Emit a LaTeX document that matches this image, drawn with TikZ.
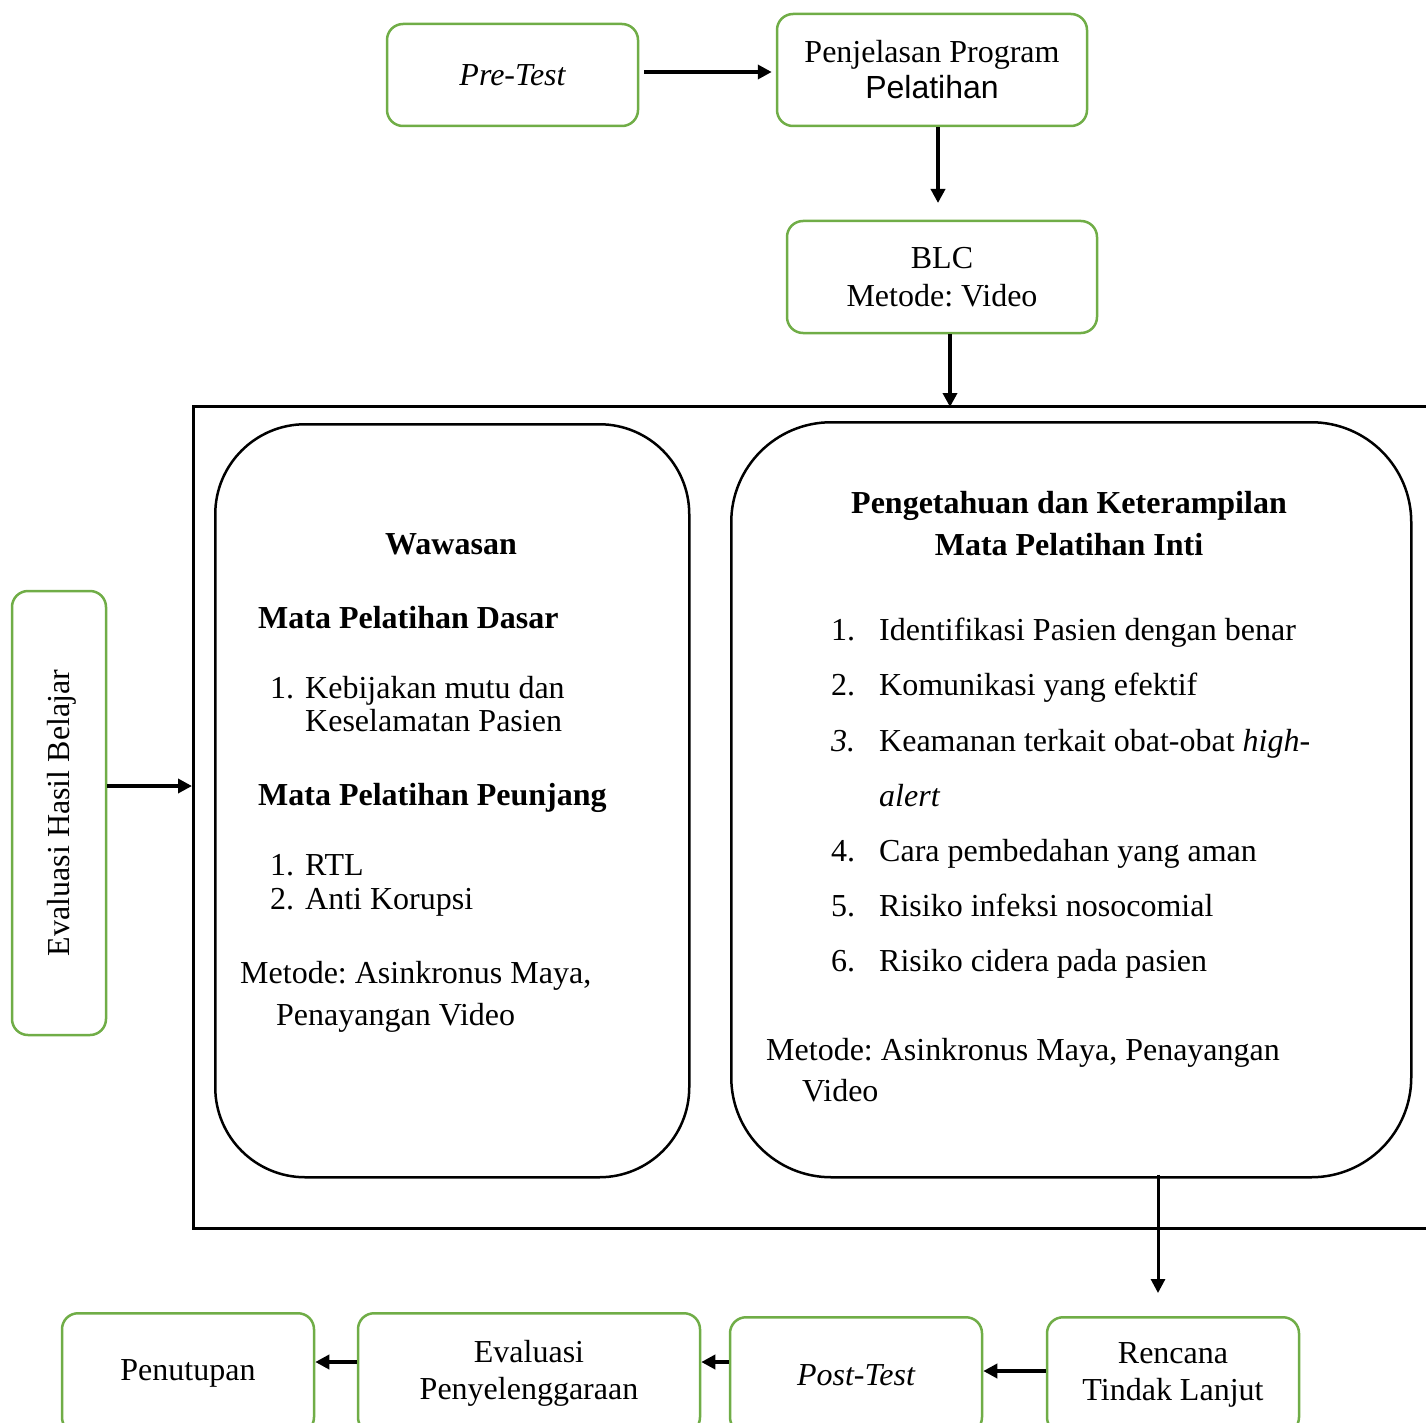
\documentclass[tikz,border=0pt]{standalone}
\usepackage{fontspec}
\setmainfont{Liberation Serif}
\setsansfont{Liberation Sans}
\usetikzlibrary{arrows.meta}
\definecolor{gr}{RGB}{112,173,71}
\frenchspacing
\begin{document}
\begin{tikzpicture}[x=1pt,y=-1pt,
 every node/.style={font=\fontsize{32}{37}\selectfont, inner sep=0pt},
 gbox/.style={draw=gr, line width=2.5pt, rounded corners=16pt, align=center},
 bbox/.style={draw=black, line width=2.5pt, rounded corners=90pt},
 arr/.style={line width=4pt, -{Triangle[length=14pt,width=14pt]}},
 tx/.style={anchor=base west},
 hd/.style={anchor=base west, font=\fontsize{32}{37}\selectfont\bfseries},
]
\useasboundingbox (0,0) rectangle (1426,1423);

% top boxes
\node[gbox, minimum width=251pt, minimum height=102pt] (pre) at (512.5,75) {\itshape Pre-Test};
\node[gbox, minimum width=310pt, minimum height=112pt] (pen) at (932,70) {Penjelasan Program\\[-1pt]{\sffamily Pelatihan}};
\node[gbox, minimum width=310pt, minimum height=112pt] (blc) at (942,277) {BLC\\[1pt]Metode: Video};

% frame and big boxes
\node[draw, line width=2.5pt, minimum width=1260pt, minimum height=822pt, anchor=north west] (outer) at (192,405) {};
\node[bbox, minimum width=474pt, minimum height=753pt, anchor=north west] (lb) at (214,423) {};
\node[bbox, rounded corners=100pt, minimum width=680pt, minimum height=755pt, anchor=north west] (rb) at (730,421) {};

% evaluation box
\node[gbox, minimum width=94pt, minimum height=444pt] (ev) at (59,813) {};
\node[rotate=90] (evt) at (62,813) {Evaluasi Hasil Belajar};

% left box text
\node[anchor=base, font=\fontsize{32}{37}\selectfont\bfseries] (w0) at (451,554) {Wawasan};
\node[hd] (w1) at (258,628) {Mata Pelatihan Dasar};
\node[tx] (w2n) at (270,698) {1.};
\node[tx] (w2) at (305,698) {Kebijakan mutu dan};
\node[tx] (w3) at (305,731) {Keselamatan Pasien};
\node[hd] (w4) at (258,805) {Mata Pelatihan Peunjang};
\node[tx] (w5n) at (270,875) {1.};
\node[tx] (w5) at (305,875) {RTL};
\node[tx] (w6n) at (270,909) {2.};
\node[tx] (w6) at (305,909) {Anti Korupsi};
\node[tx] (w7) at (240,983) {Metode: Asinkronus Maya,};
\node[tx] (w8) at (276,1025) {Penayangan Video};

% right box text
\node[anchor=base, font=\fontsize{32}{37}\selectfont\bfseries] (p0) at (1069,513) {Pengetahuan dan Keterampilan};
\node[anchor=base, font=\fontsize{32}{37}\selectfont\bfseries] (p1) at (1069,555) {Mata Pelatihan Inti};
\node[tx] (p2n) at (831,640) {1.};
\node[tx] (p2) at (879,640) {Identifikasi Pasien dengan benar};
\node[tx] (p3n) at (831,695) {2.};
\node[tx] (p3) at (879,695) {Komunikasi yang efektif};
\node[tx] (p4n) at (831,751) {\itshape 3.};
\node[tx] (p4) at (879,751) {Keamanan terkait obat-obat \textit{high-}};
\node[tx] (p4b) at (879,806) {\itshape alert};
\node[tx] (p5n) at (831,861) {4.};
\node[tx] (p5) at (879,861) {Cara pembedahan yang aman};
\node[tx] (p6n) at (831,916) {5.};
\node[tx] (p6) at (879,916) {Risiko infeksi nosocomial};
\node[tx] (p7n) at (831,971) {6.};
\node[tx] (p7) at (879,971) {Risiko cidera pada pasien};
\node[tx] (p8) at (766,1060) {Metode: Asinkronus Maya, Penayangan};
\node[tx] (p9) at (802,1101) {Video};

% bottom boxes
\node[gbox, minimum width=252pt, minimum height=120pt, anchor=north] (put) at (188,1312) {Penutupan};
\node[gbox, minimum width=342pt, minimum height=120pt, anchor=north] (evp) at (529,1312) {Evaluasi\\Penyelenggaraan};
\node[gbox, minimum width=252pt, minimum height=116pt, anchor=north] (post) at (856,1316) {\itshape Post-Test};
\node[gbox, minimum width=252pt, minimum height=116pt, anchor=north] (rtl) at (1173,1316) {Rencana\\Tindak Lanjut};

% connector helper coordinates
\coordinate (ya) at (0,72);
\coordinate (blcin) at (938,203);
\coordinate (outin) at (950,407);
\coordinate (ein) at (192,786);
\coordinate (rtlin) at (1158,1293);
\coordinate (yc) at (0,1362);
\coordinate (yd) at (0,1371);

% connectors
\draw[arr, shorten <=5pt, shorten >=4pt] (pre.east |- ya) -- (pen.west |- ya);
\draw[arr, line width=3.5pt] (pen.south -| blcin) -- (blcin);
\draw[arr, line width=3.5pt] (blc.south -| outin) -- (outin);
\draw[arr, line width=3.5pt] (ev.east |- ein) -- (ein);
\draw[arr, line width=3pt, shorten <=-4pt] (rb.south -| rtlin) -- (rtlin);
\draw[arr] (evp.west |- yc) -- (put.east |- yc);
\draw[arr] (post.west |- yc) -- (evp.east |- yc);
\draw[arr] (rtl.west |- yd) -- (post.east |- yd);
\end{tikzpicture}
\end{document}
